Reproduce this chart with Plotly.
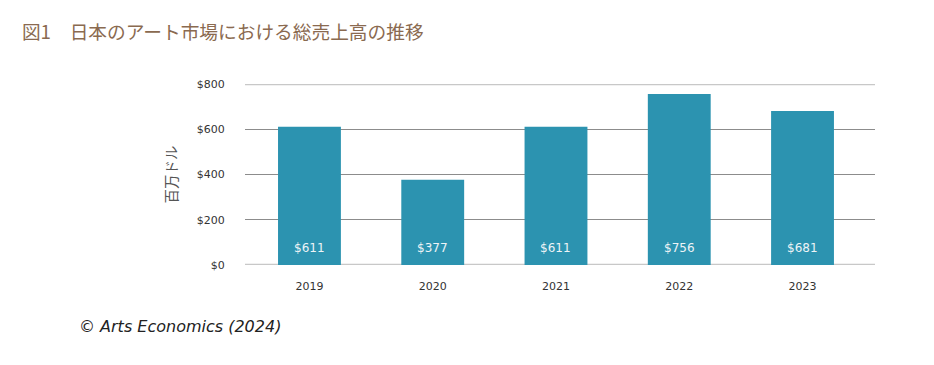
import plotly.graph_objects as go

years = ["2019", "2020", "2021", "2022", "2023"]
sales = [611, 377, 611, 756, 681]
labels = ["$611", "$377", "$611", "$756", "$681"]
tick_vals = [0, 200, 400, 600, 800]
tick_text = ["$0", "$200", "$400", "$600", "$800"]

fig = go.Figure()
fig.add_trace(go.Bar(
    x=years, y=sales,
    marker=dict(color="#2c93b0", line=dict(width=0)),
    width=0.51,
))
for i, lab in enumerate(labels):
    fig.add_annotation(x=i, y=0, text=lab, showarrow=False, yanchor="middle",
                       yshift=17, font=dict(family="DejaVu Sans", size=12, color="#eef4f7"))

fig.update_layout(
    width=934, height=365,
    paper_bgcolor="white", plot_bgcolor="white",
    margin=dict(l=245, r=59, t=84, b=100),
    showlegend=False,
    font=dict(family="DejaVu Sans", color="#444"),
    title=dict(text="図1　日本のアート市場における総売上高の推移",
               x=0.0235, xanchor="left", y=0.912, yanchor="middle",
               font=dict(family="Noto Sans CJK JP", size=18.7, color="#8a6a50")),
    xaxis=dict(type="category", range=[-0.523, len(years) - 0.412],
               tickfont=dict(size=11, color="#333"), showline=False,
               ticks="outside", ticklen=11, tickcolor="rgba(0,0,0,0)"),
    yaxis=dict(range=[0, 800], tickvals=tick_vals, ticktext=tick_text,
               tickfont=dict(size=11, color="#333"),
               ticks="outside", ticklen=17, tickcolor="rgba(0,0,0,0)",
               gridcolor="#8c8c8c", gridwidth=1, zeroline=False,
               title=dict(text="百万ドル", standoff=15,
                          font=dict(family="Noto Sans CJK JP", size=14.5, color="#555"))),
)
for v in (tick_vals[0], tick_vals[-1]):
    fig.add_shape(type="line", xref="paper", yref="y", x0=0, x1=1, y0=v, y1=v,
                  line=dict(color="#c8c8c8", width=2.5), layer="below")
fig.add_annotation(text="<i>© Arts Economics (2024)</i>", xref="paper", yref="paper",
                   x=-0.267, y=-0.34, xanchor="left", yanchor="middle", showarrow=False,
                   font=dict(family="DejaVu Sans", size=16, color="#222"))

fig.write_html("out.html", config={"displayModeBar": False},
               post_script="document.body.style.margin='0';")
